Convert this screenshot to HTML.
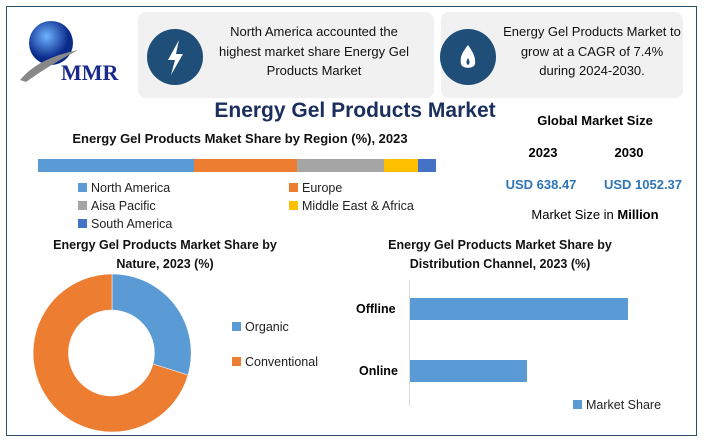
<!DOCTYPE html>
<html><head><meta charset="utf-8"><style>
body{margin:0;width:709px;height:443px;background:#fff;font-family:"Liberation Sans",sans-serif;position:relative;overflow:hidden}
.a{position:absolute}
.frame{left:6px;top:6px;width:689px;height:428px;border:1.5px solid #2e4d6b}
.box{background:#f1f1f2;border-radius:8px}
.t{font-size:13px;color:#111;text-align:center;line-height:19px}
.b{font-weight:bold}
.leg{font-size:12.5px;color:#222}
.sq{display:inline-block;width:9px;height:9px;margin-right:4px}
</style></head><body>
<div class="a frame"></div>
<svg class="a" style="left:18px;top:18px" width="105" height="70">
<defs><radialGradient id="g" cx="40%" cy="35%"><stop offset="0" stop-color="#6fb3ff"/><stop offset="1" stop-color="#0a2a8a"/></radialGradient></defs>
<circle cx="33" cy="25" r="22" fill="url(#g)"/>
<path d="M2 62 Q20 40 60 32 Q30 48 8 64Z" fill="#888"/>
<text x="43" y="62" font-family="Liberation Serif" font-size="22" fill="#1a2a8c" font-weight="bold">MMR</text>
</svg>
<div class="a box" style="left:138px;top:12px;width:296px;height:86px"></div>
<div class="a box" style="left:441px;top:12px;width:242px;height:86px"></div>
<svg class="a" style="left:146px;top:28px" width="58" height="58"><circle cx="29" cy="29" r="28" fill="#1f4e79"/><path d="M33 12 L22 32 L29 32 L25 47 L37 26 L30 26Z" fill="#fff"/></svg>
<svg class="a" style="left:439px;top:28px" width="58" height="58"><circle cx="29" cy="29" r="28" fill="#1f4e79"/><path d="M29 17 C22 26 21 30 22 36 C23 41 35 41 36 36 C37 30 34 24 29 17Z" fill="#fff"/><path d="M29 30 C27 33 27 36 29 37 C31 36 31 33 29 30Z" fill="#1f4e79"/></svg>
<div class="a t" style="left:208px;top:22px;width:212px;font-size:13px;line-height:19.5px">North America accounted the highest market share Energy Gel Products Market</div>
<div class="a t" style="left:502px;top:22px;width:180px;font-size:13px;line-height:19.5px">Energy Gel Products Market to grow at a CAGR of 7.4% during 2024-2030.</div>
<div class="a b" style="left:200px;top:99px;width:310px;text-align:center;font-size:21px;color:#1b2f5c">Energy Gel Products Market</div>
<div class="a b" style="left:40px;top:131px;width:400px;text-align:center;font-size:13px;color:#111">Energy Gel Products Maket Share by Region (%), 2023</div>
<div class="a" style="left:38px;top:159px;height:13px;width:156px;background:#5b9bd5"></div>
<div class="a" style="left:194px;top:159px;height:13px;width:103px;background:#ed7d31"></div>
<div class="a" style="left:297px;top:159px;height:13px;width:87px;background:#a5a5a5"></div>
<div class="a" style="left:384px;top:159px;height:13px;width:34px;background:#ffc000"></div>
<div class="a" style="left:418px;top:159px;height:13px;width:18px;background:#4472c4"></div>
<div class="a leg" style="left:78px;top:181px"><span class="sq" style="background:#5b9bd5"></span>North America</div>
<div class="a leg" style="left:289px;top:181px"><span class="sq" style="background:#ed7d31"></span>Europe</div>
<div class="a leg" style="left:78px;top:199px"><span class="sq" style="background:#a5a5a5"></span>Aisa Pacific</div>
<div class="a leg" style="left:289px;top:199px"><span class="sq" style="background:#ffc000"></span>Middle East &amp; Africa</div>
<div class="a leg" style="left:78px;top:217px"><span class="sq" style="background:#4472c4"></span>South America</div>
<div class="a b" style="left:505px;top:113px;width:180px;text-align:center;font-size:13px">Global Market Size</div>
<div class="a b" style="left:510px;top:145px;width:66px;text-align:center;font-size:13px">2023</div>
<div class="a b" style="left:596px;top:145px;width:66px;text-align:center;font-size:13px">2030</div>
<div class="a b" style="left:496px;top:177px;width:90px;text-align:center;font-size:13px;color:#2e75b6">USD 638.47</div>
<div class="a b" style="left:593px;top:177px;width:100px;text-align:center;font-size:13px;color:#2e75b6">USD 1052.37</div>
<div class="a" style="left:505px;top:207px;width:180px;text-align:center;font-size:13px">Market Size in <b>Million</b></div>
<div class="a b t" style="left:40px;top:236px;width:250px;font-size:12.5px">Energy Gel Products Market Share by<br>Nature, 2023 (%)</div>
<div class="a b t" style="left:370px;top:236px;width:260px;font-size:12.5px">Energy Gel Products Market Share by Distribution Channel, 2023 (%)</div>
<svg class="a" style="left:0;top:260px" width="709" height="183">
<path d="M112 14 A79 79 0 0 1 188 115 L153 104 A43 43 0 0 0 112 50Z" fill="#5b9bd5" stroke="#fff" stroke-width="0.5"/>
<path d="M188 115 A79 79 0 1 1 112 14 L112 50 A43 43 0 1 0 153 104Z" fill="#ed7d31" stroke="#fff" stroke-width="0.5"/>
<line x1="409.5" y1="20" x2="409.5" y2="146" stroke="#d9d9d9"/>
<rect x="410" y="38" width="218" height="22" fill="#5b9bd5"/>
<rect x="410" y="100" width="117" height="22" fill="#5b9bd5"/>
</svg>
<div class="a leg" style="left:232px;top:320px"><span class="sq" style="background:#5b9bd5"></span>Organic</div>
<div class="a leg" style="left:232px;top:355px"><span class="sq" style="background:#ed7d31"></span>Conventional</div>
<div class="a b" style="left:356px;top:302px;font-size:12.5px">Offline</div>
<div class="a b" style="left:359px;top:364px;font-size:12.5px">Online</div>
<div class="a leg" style="left:573px;top:398px"><span class="sq" style="background:#5b9bd5"></span>Market Share</div>
</body></html>
